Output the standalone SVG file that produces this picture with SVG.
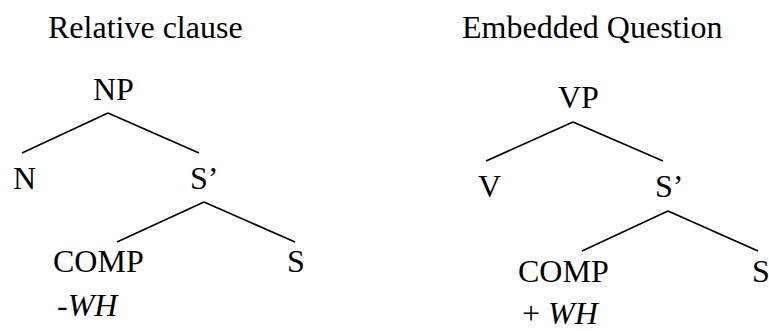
<svg xmlns="http://www.w3.org/2000/svg" width="769" height="331" viewBox="0 0 769 331">
<style>
text{font-family:'Liberation Serif','Times New Roman',serif;font-size:32px;fill:#000}
.it{font-style:italic}
line{stroke:#000;stroke-width:1.7;stroke-linecap:butt}
</style>
<rect width="769" height="331" fill="#fff"/>
<text x="48" y="38">Relative clause</text>
<text x="462" y="38">Embedded Question</text>
<g id="connectors">
<line x1="108" y1="113" x2="22" y2="153"/>
<line x1="108" y1="113" x2="199" y2="153"/>
<line x1="204" y1="202" x2="117" y2="242"/>
<line x1="204" y1="202" x2="295" y2="242"/>
<line x1="573" y1="122" x2="486" y2="161"/>
<line x1="573" y1="122" x2="663" y2="161"/>
<line x1="668" y1="211" x2="582" y2="251"/>
<line x1="668" y1="211" x2="758" y2="251"/>
</g>
<g id="np"><text x="93" y="100">NP</text></g>
<g id="n"><text x="13" y="189">N</text></g>
<g id="sbar1"><text x="190" y="189">S’</text></g>
<g id="comp1"><text x="53" y="272">COMP</text><text x="57" y="316">-<tspan class="it">WH</tspan></text></g>
<g id="s1"><text x="287" y="272">S</text></g>
<g id="vp"><text x="558" y="108">VP</text></g>
<g id="v"><text x="478" y="197">V</text></g>
<g id="sbar2"><text x="655" y="197">S’</text></g>
<g id="comp2"><text x="518" y="282">COMP</text><text x="522" y="324">+ <tspan class="it">WH</tspan></text></g>
<g id="s2"><text x="752" y="282">S</text></g>
</svg>
